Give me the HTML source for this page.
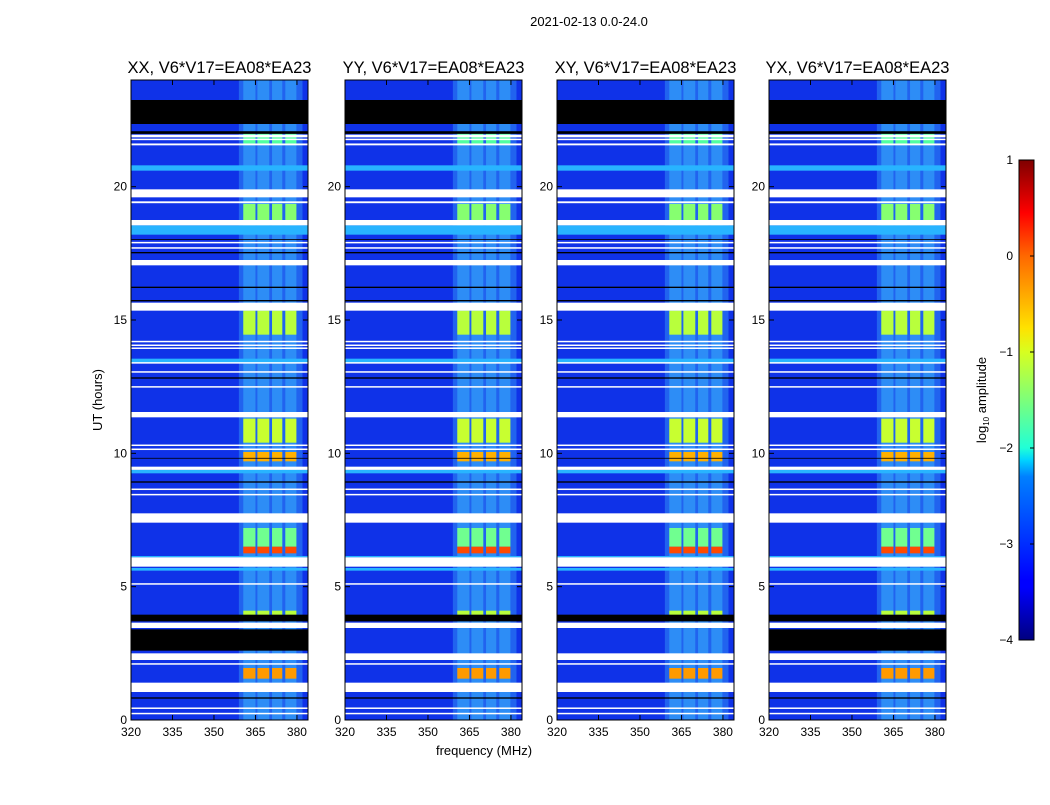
<!DOCTYPE html>
<html><head><meta charset="utf-8">
<style>
body{margin:0;background:#fff;font-family:"Liberation Sans",sans-serif;}
svg text{font-family:"Liberation Sans",sans-serif;}
</style></head>
<body>
<svg id="chart" width="1050" height="800" xmlns="http://www.w3.org/2000/svg">
<defs>
<linearGradient id="jet" x1="0" y1="1" x2="0" y2="0">
<stop offset="0" stop-color="#00007f"/><stop offset="0.11" stop-color="#0000ff"/><stop offset="0.125" stop-color="#0000ff"/>
<stop offset="0.34" stop-color="#0080ff"/><stop offset="0.375" stop-color="#00d4ff"/><stop offset="0.4" stop-color="#20ffd7"/>
<stop offset="0.5" stop-color="#7dff7a"/><stop offset="0.6" stop-color="#d7ff20"/><stop offset="0.65" stop-color="#ffe200"/>
<stop offset="0.8" stop-color="#ff6800"/><stop offset="0.89" stop-color="#ff0000"/><stop offset="1" stop-color="#7f0000"/>
</linearGradient>
</defs>
<text x="589" y="26" font-size="13" text-anchor="middle">2021-02-13 0.0-24.0</text>
<text x="102" y="400" font-size="13" text-anchor="middle" transform="rotate(-90 102 400)">UT (hours)</text>
<text x="484" y="755" font-size="13" text-anchor="middle">frequency (MHz)</text>
</svg>
<script>
// data (hours / MHz)
const panelTitles = ["XX, V6*V17=EA08*EA23","YY, V6*V17=EA08*EA23","XY, V6*V17=EA08*EA23","YX, V6*V17=EA08*EA23"];
const xTicks = [320,335,350,365,380];
const yTicks = [0,5,10,15,20];
const cbTicks = [1,0,-1,-2,-3,-4];
const whiteBands = [[21.85,21.95],[21.75,21.8],[21.55,21.62],[19.6,19.9],[19.38,19.45],[18.55,18.75],[17.88,17.93],[17.68,17.73],[17.05,17.25],[15.35,15.65],[14.17,14.22],[14.03,14.08],[13.93,13.97],[13.38,13.42],[13.03,13.08],[12.48,12.52],[11.35,11.55],[10.28,10.33],[10.13,10.18],[9.38,9.5],[8.63,8.68],[8.43,8.48],[7.4,7.75],[5.75,6.1],[5.08,5.13],[3.45,3.65],[2.25,2.5],[2.08,2.13],[1.05,1.4],[0.43,0.47],[0.23,0.27]];
const blackBands = [[22.35,23.25],[21.98,22.08],[15.7,15.75],[16.2,16.25],[17.5,17.55],[18.0,18.03],[12.8,12.85],[9.8,9.83],[8.9,8.95],[3.7,3.95],[0.8,0.85]];
const blackLowBand = [[2.6,3.4]];
const blackLowPanels = [1,0,0,1];
const cyanBands = [[20.6,20.8],[18.2,18.55],[13.4,13.55],[9.25,9.38],[5.6,5.7],[6.1,6.15]];
const chanLo = [360.6,365.7,371.0,375.8];
const chanHi = [365.0,370.0,374.7,379.8];
const blockRows = [[18.75,19.35,"#86ff70"],[14.45,15.35,"#b8ff3c"],[10.4,11.3,"#c8ff30"],[9.7,10.05,"#ffb000"],[6.5,7.2,"#70ff90"],[6.25,6.5,"#ff4a00"],[3.9,4.1,"#b8ff3c"],[1.55,1.95,"#ff9a00"],[21.62,22.0,"#50ffa0"]];
const broadLo = 359, broadHi = 382;

const S = "http://www.w3.org/2000/svg";
const svg = document.getElementById('chart');
const panelX = [131,345,557,769];
const pw = 177, pTop = 80, pBot = 720;
function mk(tag, a, parent){const e=document.createElementNS(S,tag);for(const k in a)e.setAttribute(k,a[k]);(parent||svg).appendChild(e);return e;}
function yS(h){return pBot-(h/24)*(pBot-pTop);}
panelX.forEach((px,pi)=>{
  const xS = f => px+(f-320)/64*pw;
  const g = mk('g',{});
  
  
  const bg = mk('rect',{x:px,y:pTop,width:pw,height:pBot-pTop,fill:"#0f32e8"},g);
  
  
  const br = mk('rect',{x:xS(broadLo),y:pTop,width:xS(broadHi)-xS(broadLo),height:pBot-pTop,fill:"#2a78f2",opacity:0.7},g);
  
  
  chanLo.forEach((lo,ci)=>{
    const r=mk('rect',{x:xS(lo),y:pTop,width:xS(chanHi[ci])-xS(lo),height:pBot-pTop,fill:"#3cc0ff",opacity:0.45},g);
    
    
  });
  cyanBands.forEach(b=>{
    const r=mk('rect',{x:px,y:yS(b[1]),width:pw,height:yS(b[0])-yS(b[1]),fill:"#28b4ff"},g);
    
    
  });
  blockRows.forEach(b=>{
    chanLo.forEach((lo,ci)=>{
      const r=mk('rect',{x:xS(lo),y:yS(b[1]),width:xS(chanHi[ci])-xS(lo),height:yS(b[0])-yS(b[1]),fill:b[2]},g);
      
      
    });
  });
  const blacks = blackBands.concat(blackLowPanels[pi]?blackLowBand:[]);
  blacks.forEach(b=>{
    const r=mk('rect',{x:px,y:yS(b[1]),width:pw,height:yS(b[0])-yS(b[1]),fill:"#000"},g);
    
    
  });
  whiteBands.forEach(b=>{
    const r=mk('rect',{x:px,y:yS(b[1]),width:pw,height:Math.max(1.5,yS(b[0])-yS(b[1])),fill:"#fff"},g);
    
    
  });
  const fr=mk('rect',{x:px,y:pTop,width:pw,height:pBot-pTop,fill:"none",stroke:"#000","stroke-width":1},g);
  
  
  const t=mk('text',{x:px+pw/2,y:73,'font-size':16.5,'text-anchor':'middle'},g);
  t.textContent=panelTitles[pi];
  
  
  xTicks.forEach(v=>{
    const x=xS(v);
    mk('line',{x1:x,x2:x,y1:pBot,y2:pBot-5,stroke:"#000"},g);
    mk('line',{x1:x,x2:x,y1:pTop,y2:pTop+5,stroke:"#000"},g);
    const l=mk('text',{x:x,y:pBot+16,'font-size':12,'text-anchor':'middle'},g);
    l.textContent=v;
    
    
  });
  yTicks.forEach(v=>{
    const y=yS(v);
    mk('line',{x1:px,x2:px+5,y1:y,y2:y,stroke:"#000"},g);
    mk('line',{x1:px+pw,x2:px+pw-5,y1:y,y2:y,stroke:"#000"},g);
    const l=mk('text',{x:px-4,y:y+4,'font-size':12,'text-anchor':'end'},g);
    l.textContent=v;
    
    
  });
});
// colorbar
const cbT=160, cbB=640, cbX=1019, cbW=15;
const cbY = v => cbB-(v+4)/5*(cbB-cbT);
const cb=mk('rect',{x:cbX,y:cbT,width:cbW,height:cbB-cbT,fill:"url(#jet)",stroke:"#000"});


cbTicks.forEach(v=>{
  const y=cbY(v);
  mk('line',{x1:cbX+cbW-4,x2:cbX+cbW,y1:y,y2:y,stroke:"#000"});
  const l=mk('text',{x:1013,y:y+4,'font-size':12,'text-anchor':'end'});
  l.textContent=(v<0?"\u2212"+(-v):v);
  
  
});
const cl=mk('text',{x:986,y:400,'font-size':13,'text-anchor':'middle',transform:'rotate(-90 986 400)'});
cl.innerHTML='log<tspan font-size="8" dy="3">10</tspan><tspan dy="-3"> amplitude</tspan>';


</script>
</body></html>
